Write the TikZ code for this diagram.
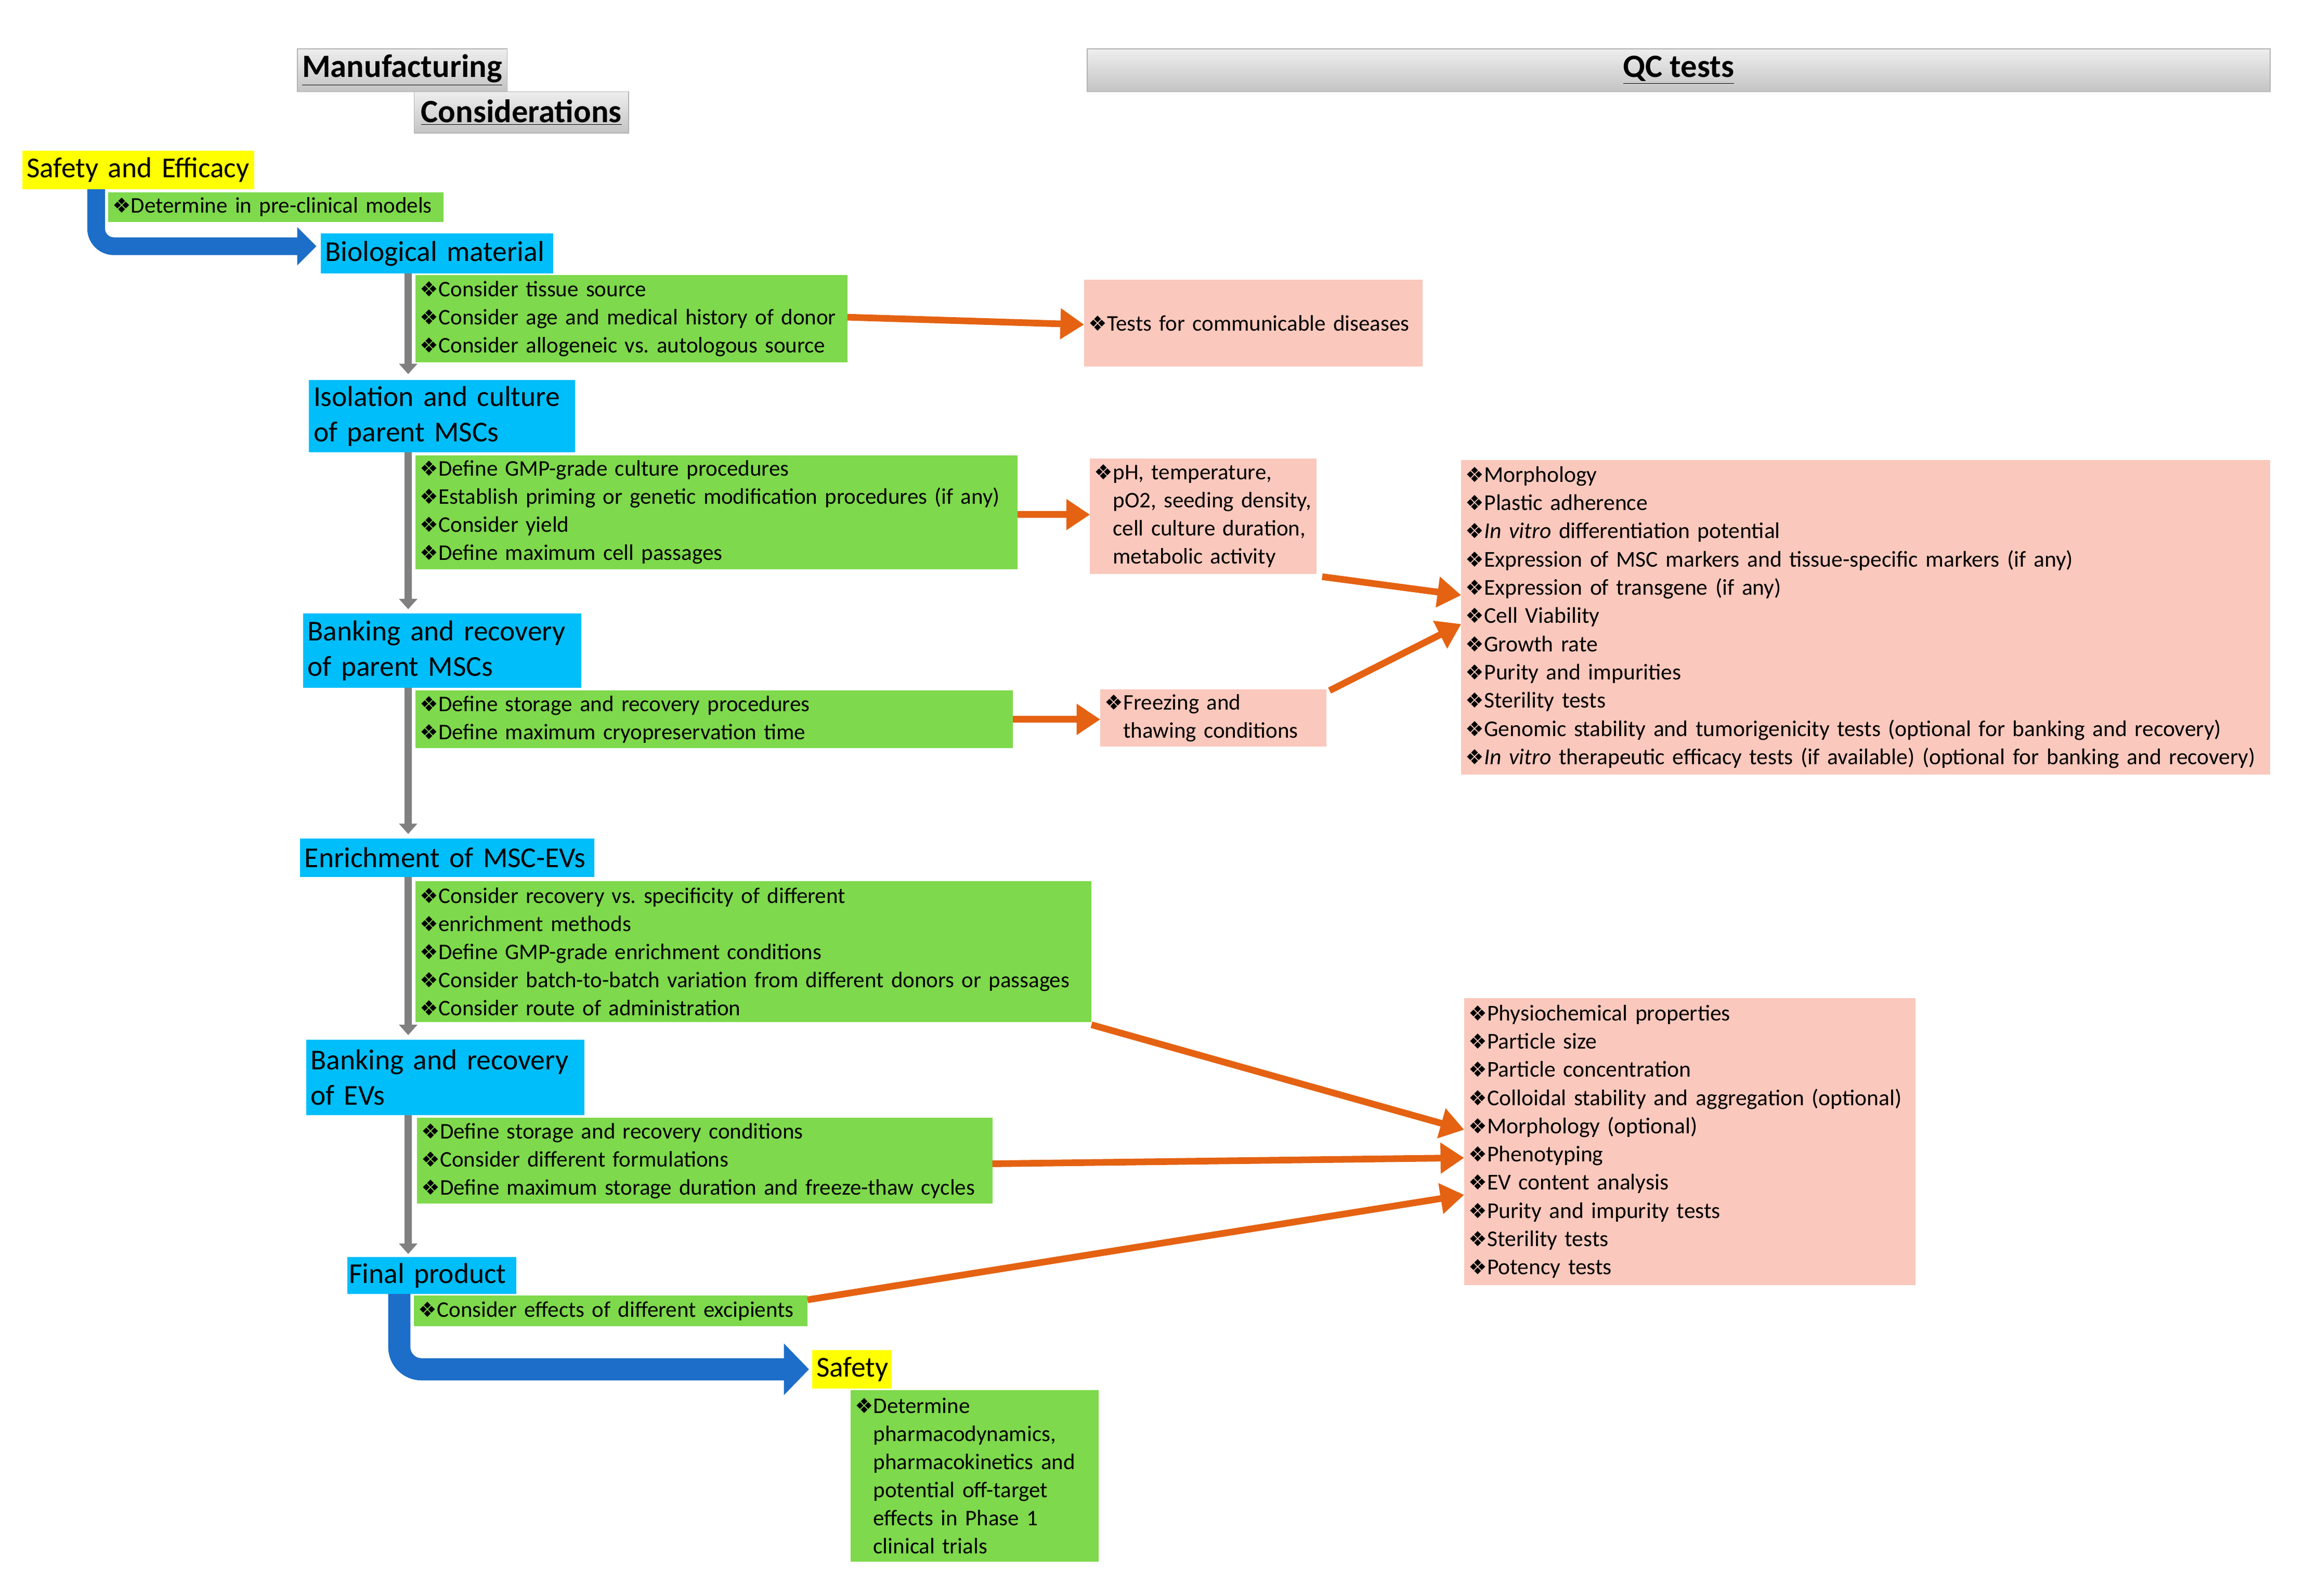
\documentclass[tikz,border=0pt]{standalone}
\usepackage{fontspec}
\setmainfont{Carlito}
\newfontfamily\djv{DejaVu Sans}
\usetikzlibrary{arrows.meta,calc}
\definecolor{mgreen}{RGB}{126,217,76}
\definecolor{mcyan}{RGB}{0,190,250}
\definecolor{mpink}{RGB}{250,200,188}
\definecolor{myellow}{RGB}{255,255,0}
\definecolor{mblue}{RGB}{28,110,200}
\definecolor{morange}{RGB}{228,98,18}
\definecolor{mgrayarr}{RGB}{128,128,128}
\definecolor{hdtop}{RGB}{238,238,238}
\definecolor{hdbot}{RGB}{196,196,196}
\newcommand\bul{{\djv\fontsize{14}{14}\selectfont\char"2756}}
\newcommand\ind{\hphantom{\bul}}
\tikzset{
  box/.style={anchor=north west, inner xsep=3pt, inner ysep=0pt, align=left, outer sep=0pt},
  gbox/.style={box, fill=mgreen, font=\fontsize{15.1}{19}\selectfont},
  cbox/.style={box, fill=mcyan, font=\fontsize{19.5}{24}\selectfont},
  ybox/.style={box, fill=myellow, font=\fontsize{19.5}{24}\selectfont},
  pbox/.style={box, fill=mpink, font=\fontsize{15.1}{19}\selectfont},
  pbig/.style={box, fill=mpink, font=\fontsize{15.3}{19.1}\selectfont},
  hbox/.style={anchor=north west, inner sep=0pt, outer sep=0pt, top color=hdtop, bottom color=hdbot, draw=gray!60, line width=0.6pt, font=\fontsize{22}{24}\selectfont\bfseries},
  grayarrow/.style={draw=mgrayarr, line width=5pt, -{Triangle[length=7pt,width=12pt]}},
  orangearrow/.style={draw=morange, line width=4.5pt, -{Triangle[length=16pt,width=20pt]}},
  bluearrow/.style={draw=mblue, line width=12pt, rounded corners=12pt, -{Triangle[length=13pt,width=25pt]}},
  bluearrowb/.style={draw=mblue, line width=15pt, rounded corners=15pt, -{Triangle[length=17pt,width=34pt]}},
}
\begin{document}
\frenchspacing
\begin{tikzpicture}[x=1pt,y=-1pt]
\useasboundingbox (0,0) rectangle (1568,1079);
% headers
\node[hbox, minimum width=142pt, minimum height=29pt] (h1) at (201,33) {\underline{Manufacturing}};
\node[hbox, minimum width=145pt, minimum height=28pt] (h2) at (280,62) {\underline{Considerations}};
\node[hbox, minimum width=800pt, minimum height=29pt] (h3) at (735,33) {\underline{QC tests}};
% yellow
\node[ybox, text width=151pt, minimum height=26pt] (y1) at (15,102) {Safety and Efficacy};
\node[ybox, text width=48pt, minimum height=26pt] (y2) at (549,913) {Safety};
% cyan
\node[cbox, text width=151pt, minimum height=27pt] (c1) at (217,158) {Biological material};
\node[cbox, text width=174pt, minimum height=49pt] (c2) at (209,257) {Isolation and culture\\of parent MSCs};
\node[cbox, text width=182pt, minimum height=50pt] (c3) at (205,415) {Banking and recovery\\of parent MSCs};
\node[cbox, text width=193pt, minimum height=26pt] (c4) at (203,567) {Enrichment of MSC-EVs};
\node[cbox, text width=182pt, minimum height=51pt] (c5) at (207,703) {Banking and recovery\\of EVs};
\node[cbox, inner xsep=1pt, text width=112pt, minimum height=25pt] (c6) at (235,850) {Final product};
% green
\node[gbox, text width=221pt, minimum height=20pt] (g0) at (73,130) {\bul Determine in pre-clinical models};
\node[gbox, text width=286pt, minimum height=59pt] (g1) at (281,186) {\bul Consider tissue source\\\bul Consider age and medical history of donor\\\bul Consider allogeneic vs. autologous source};
\node[gbox, text width=401pt, minimum height=77pt] (g2) at (281,308) {\bul Define GMP-grade culture procedures\\\bul Establish priming or genetic modification procedures (if any)\\\bul Consider yield\\\bul Define maximum cell passages};
\node[gbox, text width=398pt, minimum height=39pt] (g3) at (281,467) {\bul Define storage and recovery procedures\\\bul Define maximum cryopreservation time};
\node[gbox, text width=451pt, minimum height=95pt] (g4) at (281,596) {\bul Consider recovery vs. specificity of different\\\bul enrichment methods\\\bul Define GMP-grade enrichment conditions\\\bul Consider batch-to-batch variation from different donors or passages\\\bul Consider route of administration};
\node[gbox, text width=383pt, minimum height=58pt] (g5) at (282,756) {\bul Define storage and recovery conditions\\\bul Consider different formulations\\\bul Define maximum storage duration and freeze-thaw cycles};
\node[gbox, text width=260pt, minimum height=21pt] (g6) at (280,876) {\bul Consider effects of different excipients};
\node[gbox, text width=162pt, minimum height=116pt] (g7) at (575,940) {\bul Determine\\\ind pharmacodynamics,\\\ind pharmacokinetics and\\\ind potential off-target\\\ind effects in Phase 1\\\ind clinical trials};
% pink
\node[pbox, text width=223pt, minimum height=59pt] (p1) at (733,189) {\bul Tests for communicable diseases};
\node[pbox, text width=147pt, minimum height=78pt] (p2) at (737,310) {\bul pH, temperature,\\\ind pO2, seeding density,\\\ind cell culture duration,\\\ind metabolic activity};
\node[pbox, text width=147pt, minimum height=39pt] (p3) at (744,466) {\bul Freezing and\\\ind thawing conditions};
\node[pbig, text width=541pt, minimum height=213pt] (p4) at (988,311) {\bul Morphology\\\bul Plastic adherence\\\bul \textit{In vitro} differentiation potential\\\bul Expression of MSC markers and tissue-specific markers (if any)\\\bul Expression of transgene (if any)\\\bul Cell Viability\\\bul Growth rate\\\bul Purity and impurities\\\bul Sterility tests\\\bul Genomic stability and tumorigenicity tests (optional for banking and recovery)\\\bul \textit{In vitro} therapeutic efficacy tests (if available) (optional for banking and recovery)};
\node[pbig, text width=299pt, minimum height=194pt] (p5) at (990,675) {\bul Physiochemical properties\\\bul Particle size\\\bul Particle concentration\\\bul Colloidal stability and aggregation (optional)\\\bul Morphology (optional)\\\bul Phenotyping\\\bul EV content analysis\\\bul Purity and impurity tests\\\bul Sterility tests\\\bul Potency tests};
% gray arrows
\draw[grayarrow] ([xshift=59pt]c1.south west) -- ($([xshift=59pt]c1.south west |- c2.north)+(0,-4)$);
\draw[grayarrow] ([xshift=67pt]c2.south west) -- ($([xshift=67pt]c2.south west |- c3.north)+(0,-3)$);
\draw[grayarrow] ([xshift=71pt]c3.south west) -- ($([xshift=71pt]c3.south west |- c4.north)+(0,-3)$);
\draw[grayarrow] ([xshift=73pt]c4.south west) -- ($([xshift=73pt]c4.south west |- c5.north)+(0,-3)$);
\draw[grayarrow] ([xshift=69pt]c5.south west) -- ($([xshift=69pt]c5.south west |- c6.north)+(0,-2)$);
% blue arrows
\draw[bluearrow] ([xshift=50pt]y1.south west) |- ([yshift=5pt,xshift=-3pt]c1.west);
\draw[bluearrowb] ([xshift=35pt]c6.south west) |- ([xshift=-2pt]y2.west);
% orange arrows
\draw[orangearrow] ([yshift=1pt]g1.east) -- ([yshift=-1pt]p1.west);
\draw[orangearrow] ([yshift=-1.5pt]g2.east) -- ([yshift=-1.5pt]g2.east -| p2.west);
\draw[orangearrow] ([xshift=4pt,yshift=-2pt]p2.south east) -- ([yshift=15pt]p4.west);
\draw[orangearrow] (g3.east) -- (g3.east -| p3.west);
\draw[orangearrow] ([xshift=2pt,yshift=-1pt]p3.north east) -- ([yshift=-4.5pt]p4.west);
\draw[orangearrow] ([yshift=-2pt]g4.south east) -- ([yshift=8pt]p5.west);
\draw[orangearrow] ([yshift=-2pt]g5.east) -- ([yshift=-11pt]p5.west);
\draw[orangearrow] ([yshift=-3pt]g6.north east) -- ([yshift=-36pt]p5.west);
\end{tikzpicture}
\end{document}
